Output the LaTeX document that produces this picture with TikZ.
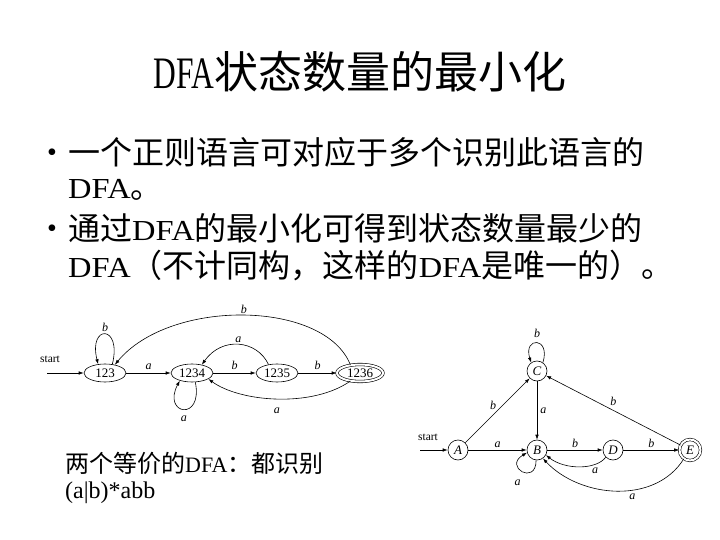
\documentclass[tikz,border=0pt]{standalone}
\usepackage{fontspec}
\usepackage{graphicx}
\setmainfont{Liberation Serif}
\newfontfamily\cjk{Noto Sans CJK SC}
\usetikzlibrary{shapes.geometric,arrows.meta}
\newcommand{\lat}[1]{{\fontsize{29}{29}\selectfont\scalebox{1.12}[1]{#1}}}
\begin{document}
\begin{tikzpicture}[x=1pt,y=-1pt,
  lst/.style={draw,ellipse,minimum width=42pt,minimum height=18pt,inner sep=0pt,font=\fontsize{13}{13}\selectfont,line width=0.6pt},
  rst/.style={draw,circle,minimum size=20pt,inner sep=0pt,font=\fontsize{13}{13}\selectfont\itshape,line width=0.6pt},
  arr/.style={-{Latex[length=5pt,width=3.5pt]},line width=0.6pt},
  lab/.style={font=\fontsize{12}{12}\selectfont\itshape,inner sep=1pt},
  txt/.style={anchor=west,inner sep=0pt,font=\fontsize{32}{32}\selectfont},
  bul/.style={inner sep=0pt,font=\fontsize{28}{28}\selectfont},
  captxt/.style={anchor=west,inner sep=0pt,font=\fontsize{24}{24}\selectfont},
]
\fill[white] (0,0) rectangle (720,540);
\useasboundingbox (0,0) rectangle (720,540);

% title
\node[inner sep=0pt,font=\fontsize{44}{44}\selectfont] (title) at (360,72) {{\fontsize{45}{45}\selectfont\scalebox{0.7}[1]{DFA}}{\cjk 状态数量的最小化}};

% bullets
\node[bul] (b1) at (52,155) {•};
\node[txt] (t1) at (68,152) {\cjk 一个正则语言可对应于多个识别此语言的};
\node[txt] (t2) at (68,190) {\lat{DFA}{\cjk 。}};
\node[bul] (b2) at (52,231) {•};
\node[txt] (t3) at (68,228) {{\cjk 通过}\lat{DFA}{\cjk 的最小化可得到状态数量最少的}};
\node[txt] (t4) at (68,266) {\lat{DFA}{\cjk （不计同构，这样的}\lat{DFA}{\cjk 是唯一的）。}};

% left DFA
\node[lst] (n123) at (105,373) {123};
\node[lst] (n1234) at (192,373) {1234};
\node[lst] (n1235) at (277,373) {1235};
\node[lst,double,double distance=2pt,minimum width=46pt,minimum height=17pt] (n1236) at (360,373) {1236};
\coordinate (ls) at (47,373);
\node[inner sep=0pt,font=\fontsize{11.5}{11.5}\selectfont] (lstart) at (50,359) {start};
\draw[arr] (ls) -- (n123);
\draw[arr] (n123) -- node[lab,above=2pt]{a} (n1234);
\draw[arr] (n1234) -- node[lab,above=2pt]{b} (n1235);
\draw[arr] (n1235) -- node[lab,above=2pt]{b} (n1236);
\draw[arr] (n123.50) .. controls +(10,-40) and +(-10,-40) .. node[lab,above=1pt]{b} (n123.128);
\draw[arr] (n1234.-70) .. controls +(8,40) and +(-18,34) .. node[lab,below=5pt]{a} (n1234.-148);
\draw[arr] (n1235.135) .. controls (257,340) and (222,336) .. node[lab,above=1pt]{a} (n1234.40);
\draw[arr] (n1236.140) .. controls (325,300) and (170,298) .. node[lab,above=1pt]{b} (n123.40);
\draw[arr] (n1236.-140) .. controls (312,408) and (240,402) .. node[lab,below=8pt]{a} (n1234.-20);

% right DFA
\node[rst] (A) at (458,450) {A};
\node[rst] (B) at (537,450) {B};
\node[rst] (C) at (537,371) {C};
\node[rst] (D) at (613,450) {D};
\node[rst,double,double distance=2pt,minimum size=21pt] (E) at (690,450) {E};
\coordinate (rs) at (420,450);
\node[inner sep=0pt,font=\fontsize{11.5}{11.5}\selectfont] (rstart) at (428,437) {start};
\draw[arr] (rs) -- (A);
\draw[arr] (A) -- node[lab,above=1pt]{a} (B);
\draw[arr] (A) -- node[lab,above left=0pt]{b} (C);
\draw[arr] (C) -- node[lab,right=2pt]{a} (B);
\draw[arr] (B) -- node[lab,above=1pt]{b} (D);
\draw[arr] (D) -- node[lab,above=1pt]{b} (E);
\draw[arr] (E) -- node[lab,above=3pt]{b} (C);
\draw[arr] (C.55) .. controls +(8,-26) and +(-8,-26) .. node[lab,above=4pt]{b} (C.125);
\draw[arr] (B.-95) .. controls +(0,26) and +(-24,14) .. node[lab,below=7pt,xshift=-5pt]{a} (B.-165);
\draw[arr] (D.-135) .. controls (596,470) and (565,470) .. node[lab,below=1pt,xshift=3pt,pos=0.3]{a} (B.-30);
\draw[arr] (E.-125) .. controls (655,505) and (580,498) .. node[lab,below=3pt,pos=0.4]{a} (B.-55);

% caption
\node[captxt] (cap1) at (65,463) {{\cjk 两个等价的}{\fontsize{22}{22}\selectfont DFA}{\cjk ：都识别}};
\node[captxt] (cap2) at (65,493) {(a|b)*abb};
\end{tikzpicture}
\end{document}
